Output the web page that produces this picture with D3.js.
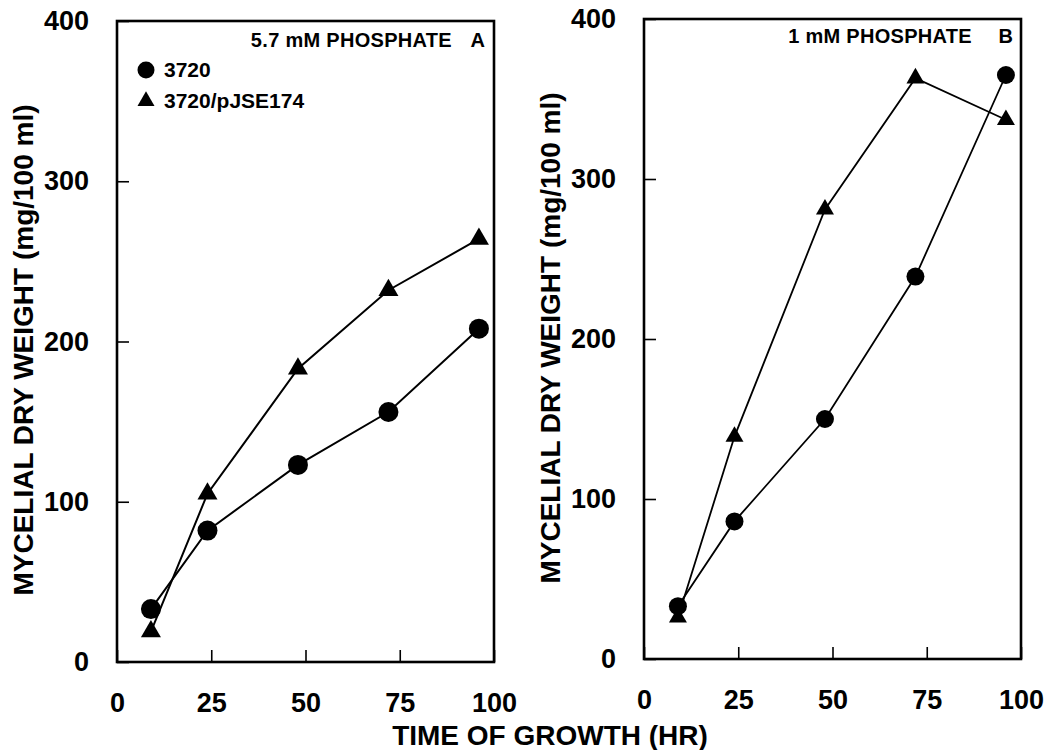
<!DOCTYPE html>
<html>
<head>
<meta charset="utf-8">
<script src="https://cdn.jsdelivr.net/npm/d3@7"></script>
<style>
  body { margin: 0; background: #fff; }
  svg { display: block; font-family: "Liberation Sans", Arial, sans-serif; font-weight: bold; }
</style>
</head>
<body>
<div id="chart"></div>
<script>
const WIDTH = 1044;
const HEIGHT = 750;

// time of growth (hr)
const HOURS = [9, 24, 48, 72, 96];
// panel A, 5.7 mM phosphate
const A_3720 = [33, 82, 123, 156, 208];
const A_PJSE174 = [19, 105, 183, 232, 264];
// panel B, 1 mM phosphate
const B_3720 = [33, 86, 150, 239, 365];
const B_PJSE174 = [26, 139, 281, 363, 337];

const X_TICKS = [0, 25, 50, 75, 100];
const Y_TICKS = [0, 100, 200, 300, 400];
const SERIES_NAMES = ['3720', '3720/pJSE174'];

const panels = [
  { title: '5.7 mM PHOSPHATE', letter: 'A', circles: A_3720, triangles: A_PJSE174,
    left: 117, right: 494, top: 21, bottom: 662, r: 10, tri: 20, lw: 2, legend: true,
    yTitleY: 350, titleEnd: 42, letterEnd: 9, titleY: 26 },
  { title: '1 mM PHOSPHATE', letter: 'B', circles: B_3720, triangles: B_PJSE174,
    left: 644, right: 1021, top: 19, bottom: 659, r: 9, tri: 18, lw: 1.8, legend: false,
    yTitleY: 338, titleEnd: 49, letterEnd: 8, titleY: 24 }
];

const svg = d3.select('#chart').append('svg')
  .attr('width', WIDTH)
  .attr('height', HEIGHT);

function triangle(w) {
  return d3.symbol().type(d3.symbolTriangle).size(Math.sqrt(3) / 4 * w * w)();
}

panels.forEach(p => {
  const x = d3.scaleLinear().domain([0, 100]).range([p.left, p.right]);
  const y = d3.scaleLinear().domain([0, 400]).range([p.bottom, p.top]);
  const g = svg.append('g');

  const xAxis = g.append('g')
    .attr('transform', `translate(0,${p.bottom})`)
    .call(d3.axisBottom(x).tickValues(X_TICKS).tickSizeInner(-12).tickSizeOuter(0).tickPadding(31));
  const yAxis = g.append('g')
    .attr('transform', `translate(${p.left},0)`)
    .call(d3.axisLeft(y).tickValues(Y_TICKS).tickSizeInner(-12).tickSizeOuter(0).tickPadding(28));
  [xAxis, yAxis].forEach(a => {
    a.select('.domain').remove();
    a.selectAll('line').attr('stroke', '#000').attr('stroke-width', 1.6);
    a.selectAll('text').attr('font-size', 27).attr('font-weight', 'bold')
      .attr('font-family', '"Liberation Sans", Arial, sans-serif').attr('fill', '#000');
  });

  g.append('rect')
    .attr('x', p.left).attr('y', p.top)
    .attr('width', p.right - p.left).attr('height', p.bottom - p.top)
    .attr('fill', 'none').attr('stroke', '#000').attr('stroke-width', 2.6);

  // y axis title
  g.append('text')
    .attr('transform', `translate(${p.left - 84},${p.yTitleY}) rotate(-90)`)
    .attr('text-anchor', 'middle')
    .attr('font-size', 28)
    .text('MYCELIAL DRY WEIGHT (mg/100 ml)');

  // panel title
  g.append('text')
    .attr('x', p.right - p.titleEnd).attr('y', p.top + p.titleY)
    .attr('text-anchor', 'end').attr('font-size', 20).attr('letter-spacing', 0.3)
    .text(p.title);
  g.append('text')
    .attr('x', p.right - p.letterEnd).attr('y', p.top + p.titleY)
    .attr('text-anchor', 'end').attr('font-size', 20)
    .text(p.letter);

  const line = d3.line().x((d, i) => x(HOURS[i])).y(d => y(d));
  [p.circles, p.triangles].forEach(vals => {
    g.append('path')
      .datum(vals)
      .attr('d', line)
      .attr('fill', 'none')
      .attr('stroke', '#000')
      .attr('stroke-width', p.lw);
  });

  g.selectAll('circle.pt')
    .data(p.circles)
    .enter()
    .append('circle')
    .attr('class', 'pt')
    .attr('cx', (d, i) => x(HOURS[i]))
    .attr('cy', d => y(d))
    .attr('r', p.r)
    .attr('fill', '#000');

  g.selectAll('path.tri')
    .data(p.triangles)
    .enter()
    .append('path')
    .attr('class', 'tri')
    .attr('d', triangle(p.tri))
    .attr('transform', (d, i) => `translate(${x(HOURS[i])},${y(d)})`)
    .attr('fill', '#000');

  if (p.legend) {
    const lg = g.append('g').attr('transform', `translate(${p.left + 29},${p.top + 49})`);
    lg.append('circle').attr('cx', 0).attr('cy', 0).attr('r', 8.5).attr('fill', '#000');
    lg.append('path').attr('d', triangle(17)).attr('transform', 'translate(0,31)').attr('fill', '#000');
    lg.selectAll('text')
      .data(SERIES_NAMES)
      .enter()
      .append('text')
      .attr('x', 18)
      .attr('y', (d, i) => i * 31 + 7)
      .attr('font-size', 21)
      .text(d => d);
  }
});

svg.append('text')
  .attr('x', 550).attr('y', 745)
  .attr('text-anchor', 'middle')
  .attr('font-size', 28)
  .text('TIME OF GROWTH (HR)');
</script>
</body>
</html>
